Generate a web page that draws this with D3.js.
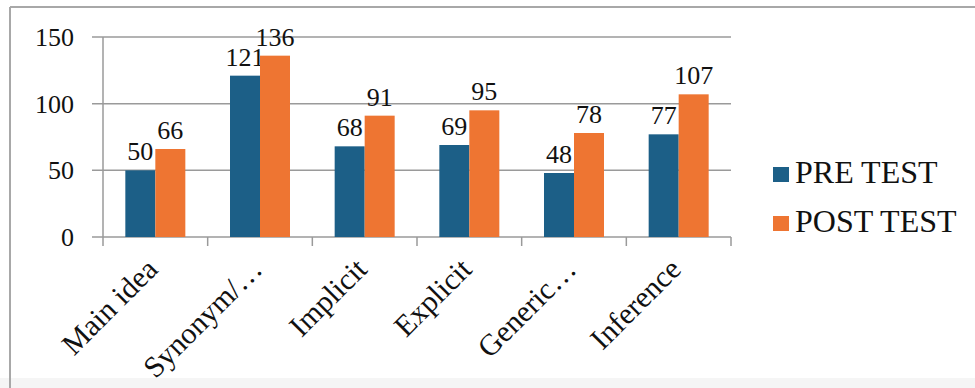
<!DOCTYPE html>
<html>
<head>
<meta charset="utf-8">
<script src="https://cdn.jsdelivr.net/npm/d3@7"></script>
<style>
  html, body { margin: 0; padding: 0; background: #fff; }
  svg { display: block; }
  svg text { font-family: "Liberation Serif", "Times New Roman" !important; }
</style>
</head>
<body>
<svg id="chart" width="975" height="388" style='font-family: "Liberation Serif", "Times New Roman";'></svg>
<script>
// Reading-skill scores, pre test vs post test
const categories = ["Main idea", "Synonym/…", "Implicit", "Explicit", "Generic…", "Inference"];
const preTest = [50, 121, 68, 69, 48, 77];
const postTest = [66, 136, 91, 95, 78, 107];
const seriesNames = ["PRE TEST", "POST TEST"];
const yTicks = [0, 50, 100, 150];

const colors = ["#1c5f87", "#ee7532"];
const serif = '"Liberation Serif", "Times New Roman"';

const svg = d3.select("#chart");

// outer frame
svg.append("rect").attr("x", 0).attr("y", 378).attr("width", 975).attr("height", 10).attr("fill", "#f5f5f5");
svg.append("line").attr("x1", 10).attr("x2", 975).attr("y1", 7).attr("y2", 7)
  .attr("stroke", "#a8a8a8").attr("stroke-width", 2);
svg.append("line").attr("x1", 10).attr("x2", 10).attr("y1", 7).attr("y2", 388)
  .attr("stroke", "#a8a8a8").attr("stroke-width", 2);

const plot = { left: 103, right: 731, top: 37, bottom: 237 };

const x = d3.scaleBand().domain(categories).range([plot.left, plot.right]).padding(0);
const y = d3.scaleLinear().domain([0, 150]).range([plot.bottom, plot.top]);
const barW = 30;

// gridlines
svg.append("g").selectAll("line").data(yTicks).join("line")
  .attr("x1", plot.left - 11).attr("x2", plot.right)
  .attr("y1", d => y(d)).attr("y2", d => y(d))
  .attr("stroke", "#9a9a9a").attr("stroke-width", 1.5);

// y axis line
svg.append("line").attr("x1", plot.left).attr("x2", plot.left)
  .attr("y1", plot.top).attr("y2", plot.bottom)
  .attr("stroke", "#9a9a9a").attr("stroke-width", 1.5);

// y axis labels
svg.append("g").selectAll("text").data(yTicks).join("text")
  .attr("x", 74).attr("y", d => y(d)).attr("dy", "0.35em")
  .attr("text-anchor", "end").attr("font-size", 26)
  .style("font-family", serif).attr("fill", "#111")
  .text(d => d);

// category tick marks
const bounds = categories.map(c => x(c)).concat([plot.right]);
svg.append("g").selectAll("line").data(bounds).join("line")
  .attr("x1", d => d).attr("x2", d => d)
  .attr("y1", plot.bottom).attr("y2", plot.bottom + 9)
  .attr("stroke", "#9a9a9a").attr("stroke-width", 1.5);

// bars with value labels
const series = [preTest, postTest];
series.forEach((vals, si) => {
  const g = svg.append("g");
  const bx = (c) => x(c) + x.bandwidth() / 2 - barW + si * barW;
  g.selectAll("rect").data(categories).join("rect")
    .attr("x", c => bx(c))
    .attr("y", (c, i) => y(vals[i]))
    .attr("width", barW)
    .attr("height", (c, i) => y(0) - y(vals[i]))
    .attr("fill", colors[si]);
  g.selectAll("text").data(categories).join("text")
    .attr("x", c => bx(c) + barW / 2)
    .attr("y", (c, i) => y(vals[i]) - 10)
    .attr("text-anchor", "middle").attr("font-size", 26)
    .style("font-family", serif).attr("fill", "#111")
    .text((c, i) => vals[i]);
});

// category labels, rotated
svg.append("g").selectAll("text").data(categories).join("text")
  .attr("transform", c => `translate(${x(c) + x.bandwidth() / 2 + 4},${plot.bottom + 34}) rotate(-45)`)
  .attr("text-anchor", "end").attr("font-size", 30)
  .style("font-family", serif).attr("fill", "#111")
  .text(c => c);

// legend
const legend = svg.append("g");
seriesNames.forEach((name, i) => {
  const baseY = 183 + i * 49;
  legend.append("rect").attr("x", 773).attr("y", baseY - 16).attr("width", 16).attr("height", 15)
    .attr("fill", colors[i]);
  legend.append("text").attr("x", 795).attr("y", baseY).attr("font-size", 32)
    .style("font-family", serif).attr("fill", "#111").text(name);
});
</script>
</body>
</html>
